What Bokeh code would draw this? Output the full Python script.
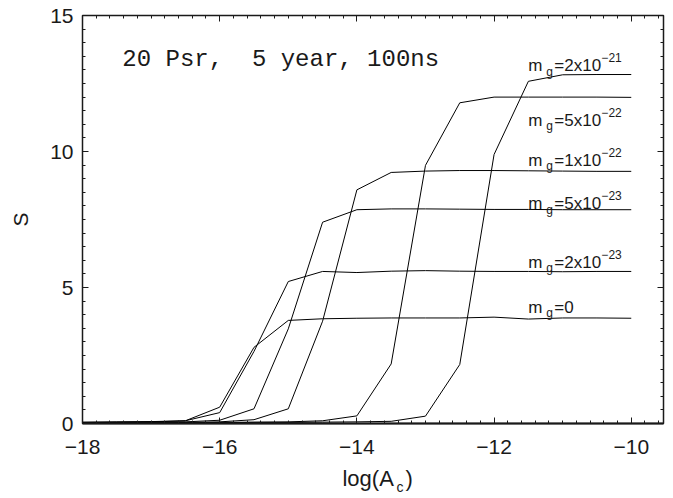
from bokeh.plotting import figure
from bokeh.models import (Label, SingleIntervalTicker, LinearAxis, CustomJSTickFormatter,
                          ColumnDataSource, Range1d)
from bokeh.layouts import column
from bokeh.core.properties import value
from bokeh.embed import file_html
from bokeh.resources import INLINE

# ---- data ----
log_ac = [-18, -17.5, -17, -16.5, -16, -15.5, -15, -14.5, -14, -13.5, -13, -12.5, -12, -11.5, -11, -10.5, -10]
s_mg0    = [0.05, 0.06, 0.07, 0.10, 0.60, 2.80, 3.79, 3.85, 3.87, 3.88, 3.88, 3.88, 3.91, 3.84, 3.88, 3.88, 3.87]
s_mg2e23 = [0.04, 0.05, 0.06, 0.10, 0.40, 2.65, 5.22, 5.59, 5.55, 5.60, 5.62, 5.60, 5.59, 5.59, 5.58, 5.59, 5.59]
s_mg5e23 = [0.03, 0.04, 0.05, 0.06, 0.12, 0.54, 3.48, 7.40, 7.86, 7.89, 7.89, 7.88, 7.87, 7.87, 7.86, 7.86, 7.86]
s_mg1e22 = [0.02, 0.03, 0.04, 0.04, 0.06, 0.14, 0.54, 3.76, 8.59, 9.23, 9.28, 9.30, 9.30, 9.29, 9.28, 9.27, 9.27]
s_mg5e22 = [0.02, 0.02, 0.03, 0.03, 0.04, 0.05, 0.06, 0.10, 0.28, 2.19, 9.49, 11.79, 12.00, 12.00, 12.00, 12.00, 11.99]
s_mg2e21 = [0.01, 0.02, 0.02, 0.03, 0.03, 0.04, 0.04, 0.05, 0.06, 0.08, 0.27, 2.17, 9.89, 12.58, 12.82, 12.83, 12.83]
series = [s_mg0, s_mg2e23, s_mg5e23, s_mg1e22, s_mg5e22, s_mg2e21]

label_main = ["=2x10", "=5x10", "=1x10", "=5x10", "=2x10", "=0"]
label_exp = ["\u221221", "\u221222", "\u221222", "\u221223", "\u221223", ""]
label_y = [13.16, 11.14, 9.67, 8.08, 5.93, 4.28]
label_x = -11.5

title_text = "20 Psr,\u00a0 5 year, 100ns"
xlabel_main = "log(A"
xlabel_sub = "c"
xlabel_end = ")"

FONT = "Liberation Sans"
INK = "#1a1a1a"

p = figure(width=673, height=466, x_range=Range1d(-18, -9.53), y_range=Range1d(0, 15),
           output_backend="svg", toolbar_location=None,
           min_border_left=82, min_border_right=10, min_border_top=15, min_border_bottom=43)
p.xgrid.visible = False
p.ygrid.visible = False
p.outline_line_color = INK
p.outline_line_width = 1.5
p.background_fill_color = "white"
p.border_fill_color = "white"

fmt = CustomJSTickFormatter(code="return (tick < 0 ? '\u2212' : '') + Math.abs(tick).toString();")
blank = CustomJSTickFormatter(code="return '';")

def style_axis(ax, show_labels):
    ax.major_tick_in = 6
    ax.major_tick_out = 0
    ax.minor_tick_in = 3
    ax.minor_tick_out = 0
    ax.major_tick_line_color = INK
    ax.minor_tick_line_color = INK
    ax.axis_line_color = INK
    if show_labels:
        ax.major_label_text_font = FONT
        ax.major_label_text_font_size = "21px"
        ax.major_label_text_color = INK
        ax.formatter = fmt
    else:
        ax.formatter = blank
        ax.major_label_text_font_size = "1px"
        ax.major_label_standoff = 0

xax = p.xaxis[0]
xax.ticker = SingleIntervalTicker(interval=2, num_minor_ticks=10)
style_axis(xax, True)
xax.axis_line_width = 2
xax.major_label_standoff = 16

yax = p.yaxis[0]
yax.ticker = SingleIntervalTicker(interval=5, num_minor_ticks=10)
style_axis(yax, True)
yax.major_label_standoff = 9
yax.axis_label = "S"
yax.axis_label_text_font = FONT
yax.axis_label_text_font_size = "21px"
yax.axis_label_text_font_style = "normal"
yax.axis_label_text_color = INK
yax.axis_label_standoff = 15

top = LinearAxis(ticker=SingleIntervalTicker(interval=2, num_minor_ticks=10))
style_axis(top, False)
p.add_layout(top, "above")
right = LinearAxis(ticker=SingleIntervalTicker(interval=5, num_minor_ticks=10))
style_axis(right, False)
p.add_layout(right, "right")

for s in series:
    p.line(log_ac, s, line_color="black", line_width=1)

src = ColumnDataSource(dict(x=[label_x] * len(label_y), y=label_y, main=label_main, exp=label_exp,
                            m=["m"] * len(label_y), g=["g"] * len(label_y)))
common = dict(source=src, text_font=value(FONT), text_color=INK, text_baseline="alphabetic", text_align="left")
p.text(x="x", y="y", text="m", text_font_size="17px", x_offset=0, **common)
p.text(x="x", y="y", text="g", text_font_size="12px", x_offset=18, y_offset=6, **common)
p.text(x="x", y="y", text="main", text_font_size="17px", x_offset=26, **common)
p.text(x="x", y="y", text="exp", text_font_size="12px", x_offset=73, y_offset=-8, **common)

p.add_layout(Label(x=-17.42, y=13.38, text=title_text, text_font="Liberation Mono",
                   text_font_size="24px", text_color=INK, text_baseline="alphabetic"))

# x axis label log(A_c), drawn in a thin strip below the main plot
p2 = figure(width=673, height=32, x_range=p.x_range, y_range=Range1d(0, 1),
            output_backend="svg", toolbar_location=None,
            x_axis_location=None, y_axis_location=None,
            min_border_left=82, min_border_right=10, min_border_top=0, min_border_bottom=0)
p2.xgrid.visible = False
p2.ygrid.visible = False
p2.outline_line_color = None
p2.background_fill_color = "white"
p2.border_fill_color = "white"

xsrc = ColumnDataSource(dict(x=[-14.21], y=[0.64], a=[xlabel_main], b=[xlabel_sub], c=[xlabel_end]))
xc = dict(source=xsrc, text_font=value(FONT), text_color=INK, text_baseline="alphabetic", text_align="left")
p2.text(x="x", y="y", text="a", text_font_size="22px", **xc)
p2.text(x="x", y="y", text="b", text_font_size="14px", x_offset=54, y_offset=9, **xc)
p2.text(x="x", y="y", text="c", text_font_size="22px", x_offset=63, **xc)

layout = column(p, p2, spacing=0)
open("out.html", "w").write(file_html(layout, INLINE))
